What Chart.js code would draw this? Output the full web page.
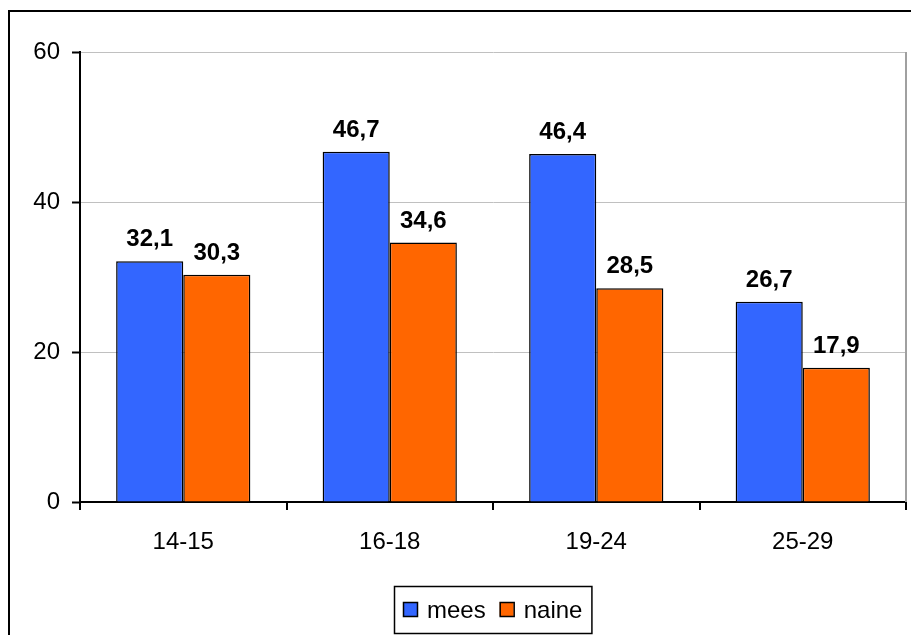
<!DOCTYPE html>
<html>
<head>
<meta charset="utf-8">
<script src="https://cdn.jsdelivr.net/npm/chart.js@4/dist/chart.umd.min.js"></script>
<style>
  html, body { margin: 0; padding: 0; background: #fff; }
  canvas { display: block; }
</style>
</head>
<body>
<canvas id="c" width="911" height="635"></canvas>
<script>
const categories = ['14-15', '16-18', '19-24', '25-29'];
const seriesNames = ['mees', 'naine'];
const meesValues = [32.1, 46.7, 46.4, 26.7];
const naineValues = [30.3, 34.6, 28.5, 17.9];
const yTicks = [0, 20, 40, 60];

const FONT = '"Liberation Sans", Arial, sans-serif';
const BLUE = '#3366FF';
const ORANGE = '#FF6600';

const framePlugin = {
  id: 'frame',
  beforeDraw(chart) {
    const ctx = chart.ctx;
    ctx.save();
    ctx.fillStyle = '#fff';
    ctx.fillRect(0, 0, chart.width, chart.height);
    ctx.restore();
  },
  afterDraw(chart) {
    const ctx = chart.ctx;
    const a = chart.chartArea;
    ctx.save();
    ctx.strokeStyle = '#000';
    ctx.lineWidth = 2;
    ctx.strokeRect(9, 11, 2000, 2000);
    ctx.strokeStyle = '#a0a0a0';
    ctx.lineWidth = 2;
    ctx.beginPath();
    ctx.moveTo(a.right, a.top);
    ctx.lineTo(a.right, a.bottom);
    ctx.stroke();
    ctx.fillStyle = '#000';
    ctx.font = 'bold 24px ' + FONT;
    ctx.textAlign = 'center';
    ctx.textBaseline = 'alphabetic';
    chart.data.datasets.forEach((ds, i) => {
      const meta = chart.getDatasetMeta(i);
      meta.data.forEach((bar, j) => {
        const txt = ds.data[j].toFixed(1).replace('.', ',');
        ctx.fillText(txt, bar.x, bar.y - 15);
      });
    });
    ctx.font = '24px ' + FONT;
    const sq = 14, pad = 9, gapSq = 10, gapItem = 14;
    const widths = chart.data.datasets.map(d => ctx.measureText(d.label).width);
    let total = pad * 2;
    widths.forEach((w, i) => { total += sq + gapSq + w; if (i > 0) total += gapItem; });
    const cx = (a.left + a.right) / 2;
    const lx = Math.round(cx - total / 2);
    const ly = 586, lh = 47;
    ctx.strokeStyle = '#000';
    ctx.lineWidth = 1.5;
    ctx.strokeRect(lx + 0.5, ly + 0.5, total, lh);
    let x = lx + pad;
    chart.data.datasets.forEach((d, i) => {
      ctx.fillStyle = d.backgroundColor;
      ctx.fillRect(x, 602, sq, sq);
      ctx.strokeStyle = '#000';
      ctx.lineWidth = 1.5;
      ctx.strokeRect(x + 0.5, 602.5, sq, sq);
      x += sq + gapSq;
      ctx.fillStyle = '#000';
      ctx.textAlign = 'left';
      ctx.fillText(d.label, x, 618);
      x += widths[i] + gapItem;
    });
    ctx.restore();
  }
};

new Chart(document.getElementById('c'), {
  type: 'bar',
  data: {
    labels: categories,
    datasets: [
      { label: seriesNames[0], data: meesValues, backgroundColor: BLUE, borderColor: '#000', borderWidth: 1.5, borderSkipped: 'bottom' },
      { label: seriesNames[1], data: naineValues, backgroundColor: ORANGE, borderColor: '#000', borderWidth: 1.5, borderSkipped: 'bottom' }
    ]
  },
  options: {
    responsive: false,
    animation: false,
    events: [],
    layout: { padding: { left: 0, right: 5, top: 52, bottom: 0 } },
    datasets: { bar: { categoryPercentage: 0.65, barPercentage: 1.0 } },
    plugins: { legend: { display: false }, tooltip: { enabled: false } },
    scales: {
      x: {
        offset: true,
        grid: { display: true, offset: true, drawOnChartArea: false, drawTicks: true, tickLength: 8, tickColor: '#000', lineWidth: 2 },
        border: { display: true, color: '#000', width: 2 },
        ticks: { color: '#000', font: { family: FONT, size: 24 }, padding: 18, maxRotation: 0 },
        afterFit(scale) { scale.height = 133; }
      },
      y: {
        min: 0, max: 60,
        afterBuildTicks(scale) { scale.ticks = yTicks.map(v => ({ value: v })); },
        grid: { color: '#c0c0c0', lineWidth: 1, tickLength: 8, tickColor: '#000', tickWidth: 2 },
        border: { display: true, color: '#000', width: 2 },
        ticks: { color: '#000', font: { family: FONT, size: 24 }, padding: 12 },
        afterFit(scale) { scale.width = 80; }
      }
    }
  },
  plugins: [framePlugin]
});
</script>
</body>
</html>
